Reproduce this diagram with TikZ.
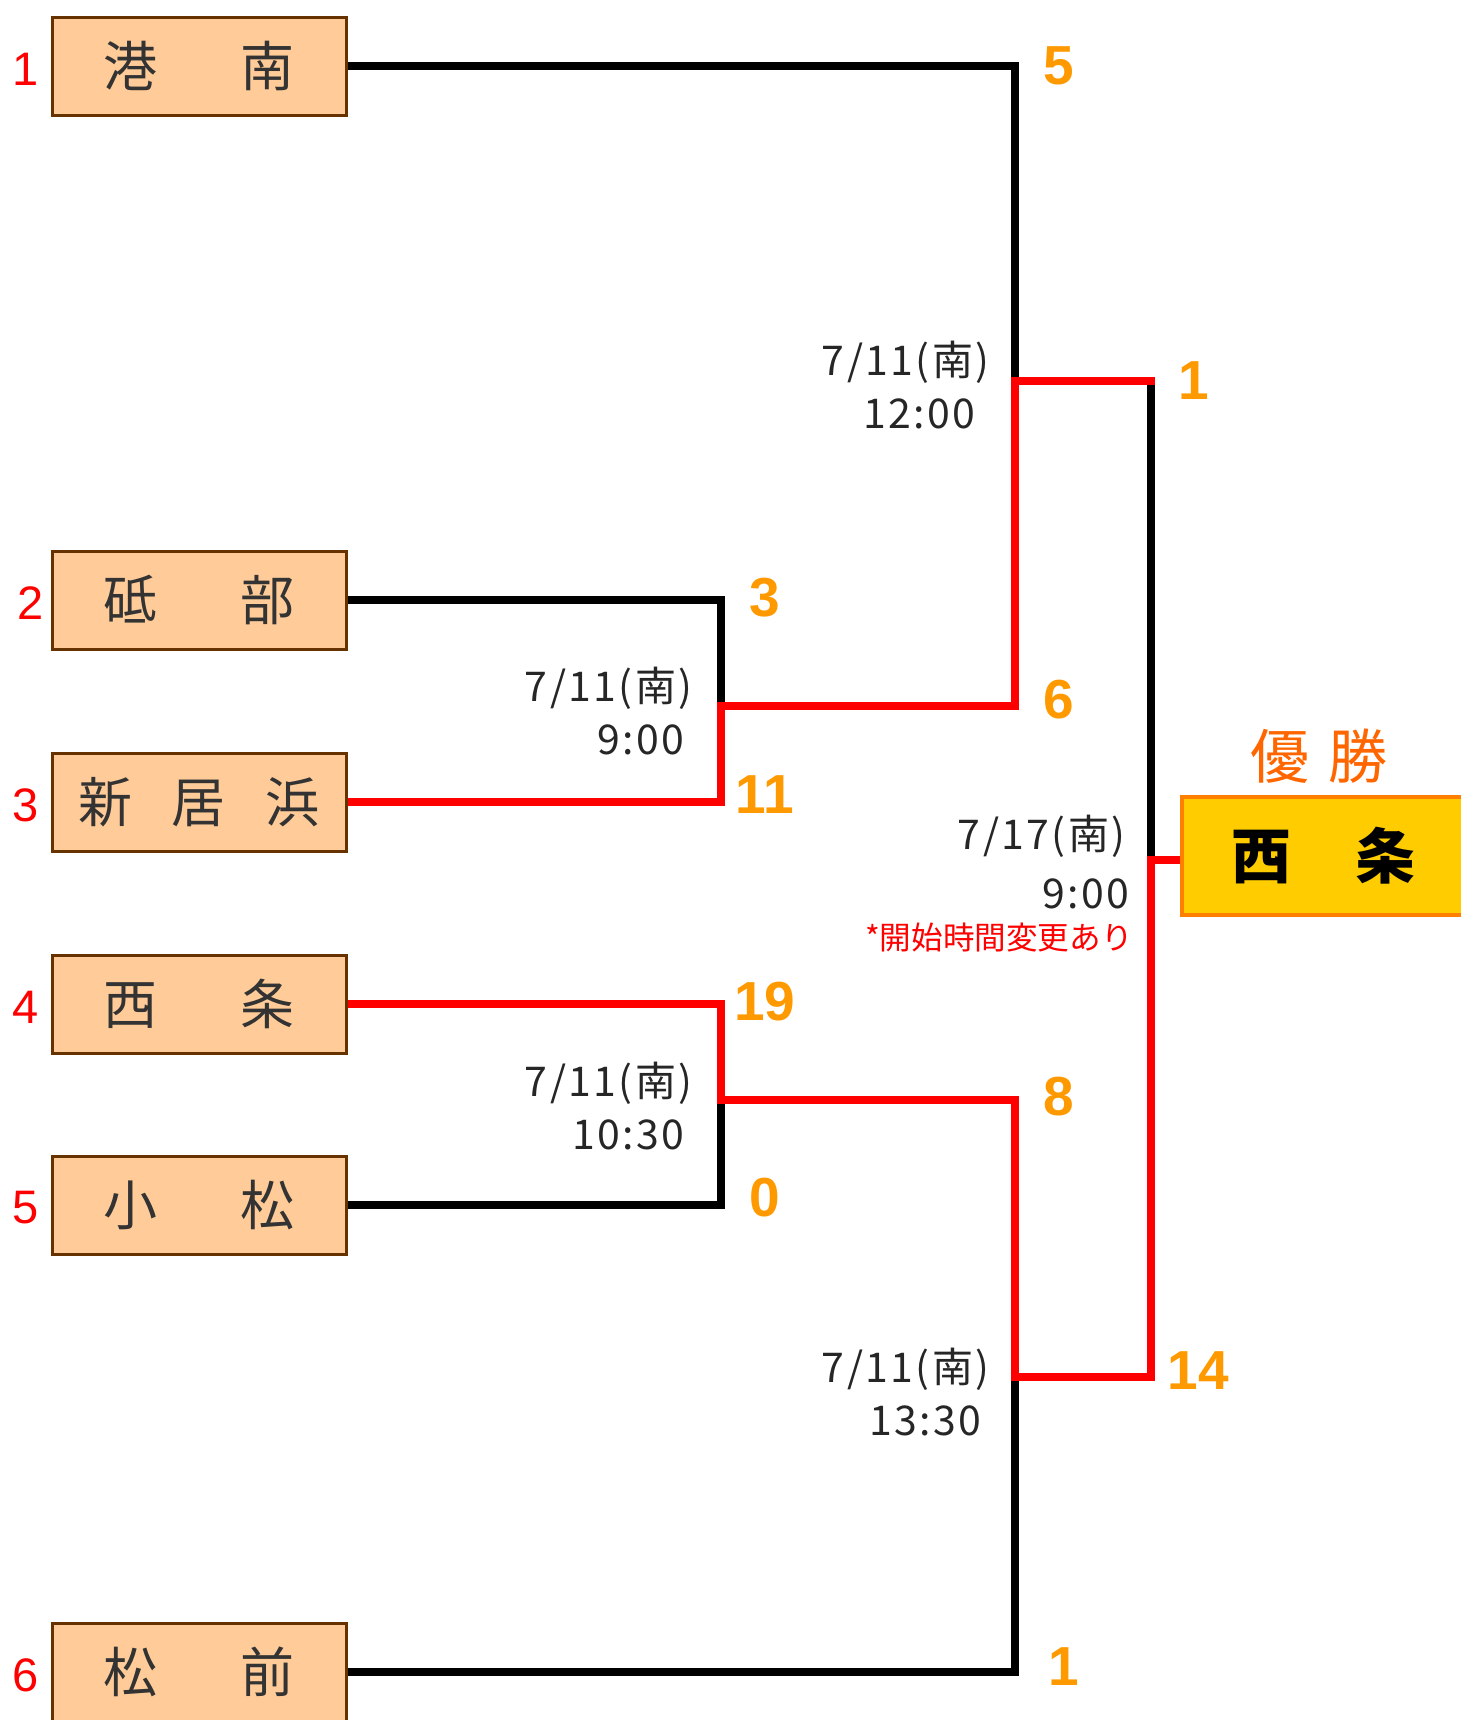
\documentclass[tikz,border=0pt]{standalone}
\usepackage{fontspec}
\newfontfamily\cjk{Noto Sans CJK JP}
\newfontfamily\datefont{Noto Sans CJK JP}[LetterSpace=6.0]
\newfontfamily\numfont{Liberation Sans}
\definecolor{boxfill}{HTML}{FFCC99}
\definecolor{boxline}{HTML}{663300}
\definecolor{scorecol}{HTML}{FF9900}
\definecolor{wincol}{HTML}{FF6600}
\definecolor{champfill}{HTML}{FFCC00}
\definecolor{champline}{HTML}{FF8000}
\definecolor{winred}{HTML}{FF0000}
\newcommand{\twogap}{\hspace{41.5pt}}
\newcommand{\threegap}{\hspace{19.75pt}}
\tikzset{
team/.style={
  rectangle,
  draw=boxline,
  line width=1.5pt,
  fill=boxfill,
  minimum width=147pt,
  minimum height=49pt,
  inner sep=0pt,
  text=black!80,
  font=\cjk\fontsize{27}{27}\selectfont
},
champ/.style={
  rectangle,
  draw=champline,
  line width=2pt,
  fill=champfill,
  minimum width=149pt,
  minimum height=59pt,
  inner sep=0pt,
  font=\cjk\bfseries\fontsize{30}{30}\selectfont
},
seed/.style={font=\numfont\fontsize{23.5}{23.5}\selectfont, text=winred, inner sep=0pt},
score/.style={font=\numfont\bfseries\fontsize{27.5}{27.5}\selectfont, text=scorecol, inner sep=0pt},
date/.style={font=\datefont\fontsize{20.5}{26.5}\selectfont, text=black!85, align=right, anchor=east, inner sep=0pt},
lost/.style={line width=4.2pt, black},
won/.style={line width=4.2pt, winred},
}

\begin{document}
\begin{tikzpicture}[x=0.5pt,y=-0.5pt]
\useasboundingbox (0,0) rectangle (1461,1720);
% the teams
\foreach \n/\xx/\yy/\tname in {1/26/66/{港\twogap 南}, 2/31/600/{砥\twogap 部},
  3/26/802/{新\threegap 居\threegap 浜}, 4/26/1004/{西\twogap 条},
  5/26/1205/{小\twogap 松}, 6/26/1672/{松\twogap 前}}
{
  \node[team] (t\n) at (199,\yy) {\tname};
  \node[seed] (s\n) at (\xx,\yy+3) {\n};
}
% the junctions
\coordinate (qf1) at (721,706);
\coordinate (qf2) at (721,1100);
\coordinate (sf1) at (1015,381);
\coordinate (sf2) at (1015,1377);
\coordinate (sf1r) at (1151,381);
\coordinate (fin) at (1151,860);
\node[champ] (champ) at (1331,856) {\hspace*{-7.7pt}西\hspace{32pt}条};
\node[font=\cjk\fontsize{29.5}{29.5}\selectfont, text=wincol, inner sep=0pt] (yusho) at (1319,756) {優\hspace{9.5pt}勝};
% the bracket lines
\draw[lost] (t1.east) -| (sf1);
\draw[lost] (t2.east) -| (qf1);
\draw[lost] (t5.east) -| (qf2);
\draw[lost] (t6.east) -| (sf2);
\draw[lost] (sf1r) -- (fin);
\draw[won] (t3.east) -| (qf1) -| (sf1) -- ([xshift=2.1pt]sf1r);
\draw[won] (t4.east) -| (qf2) -| (sf2) -| (fin) -- (fin -| champ.west);
% the scores
\foreach \sc/\xx/\yy [count=\i] in {5/1059/66, 3/765/598, 11/765/795, 6/1059/700,
  1/1194/381, 19/765/1002, 0/765/1198, 8/1059/1097, 1/1064/1667, 14/1198/1371}
{
  \node[score] (sc\i) at (\xx,\yy) {\sc};
}
% the dates
\node[date] (d1) at (990,385) {7/11(南)\\12:00\hspace*{7pt}};
\node[date] (d2) at (693,711) {7/11(南)\\9:00\hspace*{4pt}};
\node[date] (d3) at (693,1106) {7/11(南)\\10:30\hspace*{4pt}};
\node[date] (d4) at (990,1392) {7/11(南)\\13:30\hspace*{4pt}};
\node[date] (d5) at (1130,862) {7/17(南)\hspace*{2pt}\\[3pt]9:00};
\node[date, font=\cjk\fontsize{15.8}{15.8}\selectfont, text=winred] (note) at (1133,938) {*開始時間変更あり};
\end{tikzpicture}
\end{document}
